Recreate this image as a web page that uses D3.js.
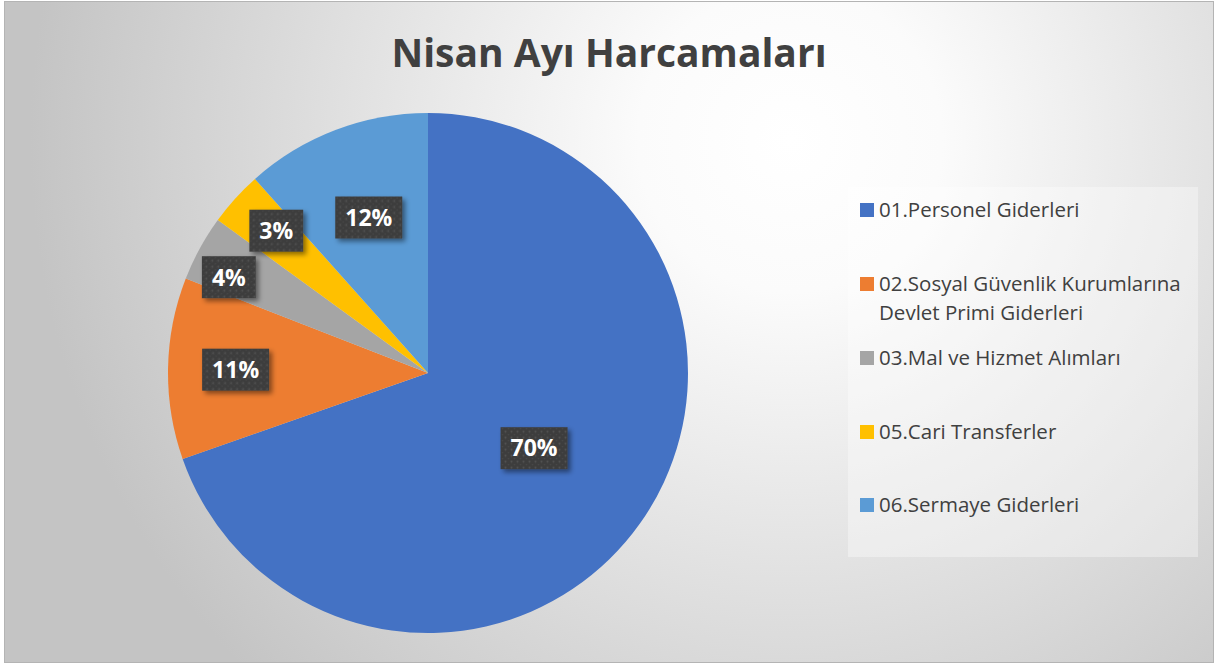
<!DOCTYPE html>
<html>
<head>
<meta charset="utf-8">
<script src="https://cdn.jsdelivr.net/npm/d3@7"></script>
<style>
  body { margin: 0; background: #fff; }
  #chart { width: 1215px; height: 664px; }
</style>
</head>
<body>
<div id="chart"></div>
<script>
// chart data
var categories = [
    "01.Personel Giderleri",
    "02.Sosyal Güvenlik Kurumlarına Devlet Primi Giderleri",
    "03.Mal ve Hizmet Alımları",
    "05.Cari Transferler",
    "06.Sermaye Giderleri"
];
var values = [69.7, 11.3, 4.1, 3.4, 11.6];
var colors = ["#4472C4", "#ED7D31", "#A5A5A5", "#FFC000", "#5B9BD5"];
var legendLines = [
    ["01.Personel Giderleri"],
    ["02.Sosyal Güvenlik Kurumlarına", "Devlet Primi Giderleri"],
    ["03.Mal ve Hizmet Alımları"],
    ["05.Cari Transferler"],
    ["06.Sermaye Giderleri"]
];
var title = "Nisan Ayı Harcamaları";

// label placement (fraction of radius, angle nudge in degrees), like Excel's best fit
var labelRadius = [0.5, 0.74, 0.85, 0.8, 0.64];
var labelNudge = [0, 0, -3, 1, 0];

function initPie(containerID) {
    var W = 1215, H = 664;
    var cx = 428, cy = 373, r = 260;
    var total = d3.sum(values);

    var svg = d3.select('#' + containerID)
        .append('svg')
        .attr('width', W)
        .attr('height', H);

    var defs = svg.append("defs");

    var bg = defs.append("radialGradient")
        .attr("id", "bg")
        .attr("gradientUnits", "userSpaceOnUse")
        .attr("cx", 790).attr("cy", 140).attr("r", 760);
    bg.append("stop").attr("offset", "0").attr("stop-color", "#ffffff");
    bg.append("stop").attr("offset", "0.2").attr("stop-color", "#fbfbfb");
    bg.append("stop").attr("offset", "1").attr("stop-color", "#c4c4c4");

    var pat = defs.append("pattern")
        .attr("id", "dots")
        .attr("patternUnits", "userSpaceOnUse")
        .attr("width", 6).attr("height", 6);
    pat.append("rect").attr("width", 6).attr("height", 6).attr("fill", "#3e3e3e");
    pat.append("circle").attr("cx", 1.5).attr("cy", 1.5).attr("r", 0.9).attr("fill", "#545454");
    pat.append("circle").attr("cx", 4.5).attr("cy", 4.5).attr("r", 0.6).attr("fill", "#4a4a4a");

    var shadow = defs.append("filter")
        .attr("id", "shadow")
        .attr("x", "-30%").attr("y", "-30%")
        .attr("width", "160%").attr("height", "160%");
    shadow.append("feDropShadow")
        .attr("dx", 3).attr("dy", 3)
        .attr("stdDeviation", 2.5)
        .attr("flood-color", "#000")
        .attr("flood-opacity", 0.45);

    // background + frame
    svg.append("rect")
        .attr("x", 4.5).attr("y", 1.5)
        .attr("width", 1209).attr("height", 661)
        .attr("fill", "url(#bg)")
        .attr("stroke", "#b4b4b4")
        .attr("stroke-width", 1);

    svg.append("text")
        .attr("x", 609)
        .attr("y", 67)
        .attr("text-anchor", "middle")
        .style("font-family", "'Open Sans', sans-serif")
        .style("font-weight", "700")
        .style("font-size", "39px")
        .style("fill", "#404040")
        .text(title);

    var pie = d3.pie().sort(null).value(function(d) { return d; });
    var arcs = pie(values);
    var arc = d3.arc().innerRadius(0).outerRadius(r);

    var g = svg.append("g")
        .attr("transform", "translate(" + cx + "," + cy + ")");

    g.selectAll("path.slice")
        .data(arcs)
        .enter().append("path")
        .attr("class", "slice")
        .attr("d", arc)
        .attr("fill", function(d, i) { return colors[i]; });

    // data labels
    var labels = g.selectAll("g.label")
        .data(arcs)
        .enter().append("g")
        .attr("class", "label")
        .attr("transform", function(d, i) {
            var a = (d.startAngle + d.endAngle) / 2 + labelNudge[i] * Math.PI / 180;
            var lr = r * labelRadius[i];
            return "translate(" + (lr * Math.sin(a)) + "," + (-lr * Math.cos(a)) + ")";
        });

    labels.each(function(d, i) {
        var lg = d3.select(this);
        var txt = Math.round(d.value / total * 100) + "%";
        var t = lg.append("text")
            .attr("text-anchor", "middle")
            .attr("dy", "0.36em")
            .style("font-family", "'Open Sans', sans-serif")
            .style("font-weight", "700")
            .style("font-size", "23px")
            .style("fill", "#ffffff")
            .text(txt);
        var w = t.node().getComputedTextLength() + 20;
        var h = 42;
        lg.insert("rect", "text")
            .attr("x", -w / 2).attr("y", -h / 2)
            .attr("width", w).attr("height", h)
            .attr("fill", "url(#dots)")
            .attr("filter", "url(#shadow)");
    });

    // legend
    var legend = svg.append("g").attr("class", "legend");
    legend.append("rect")
        .attr("x", 848).attr("y", 187)
        .attr("width", 350).attr("height", 370)
        .attr("fill", "#ffffff")
        .attr("fill-opacity", 0.35);

    var itemY = [210, 284, 358, 432, 505];
    var lineH = 29;
    var items = legend.selectAll("g.item")
        .data(categories)
        .enter().append("g")
        .attr("class", "item")
        .attr("transform", function(d, i) { return "translate(860," + itemY[i] + ")"; });

    items.append("rect")
        .attr("x", 0).attr("y", -7)
        .attr("width", 14).attr("height", 14)
        .attr("fill", function(d, i) { return colors[i]; });

    items.each(function(d, i) {
        var t = d3.select(this).append("text")
            .attr("x", 19)
            .style("font-family", "'Open Sans', sans-serif")
            .style("font-size", "20.5px")
            .style("fill", "#404040");
        legendLines[i].forEach(function(line, j) {
            t.append("tspan")
                .attr("x", 19)
                .attr("y", j * lineH)
                .attr("dy", "0.35em")
                .text(line);
        });
    });
}

initPie("chart");
</script>
</body>
</html>
